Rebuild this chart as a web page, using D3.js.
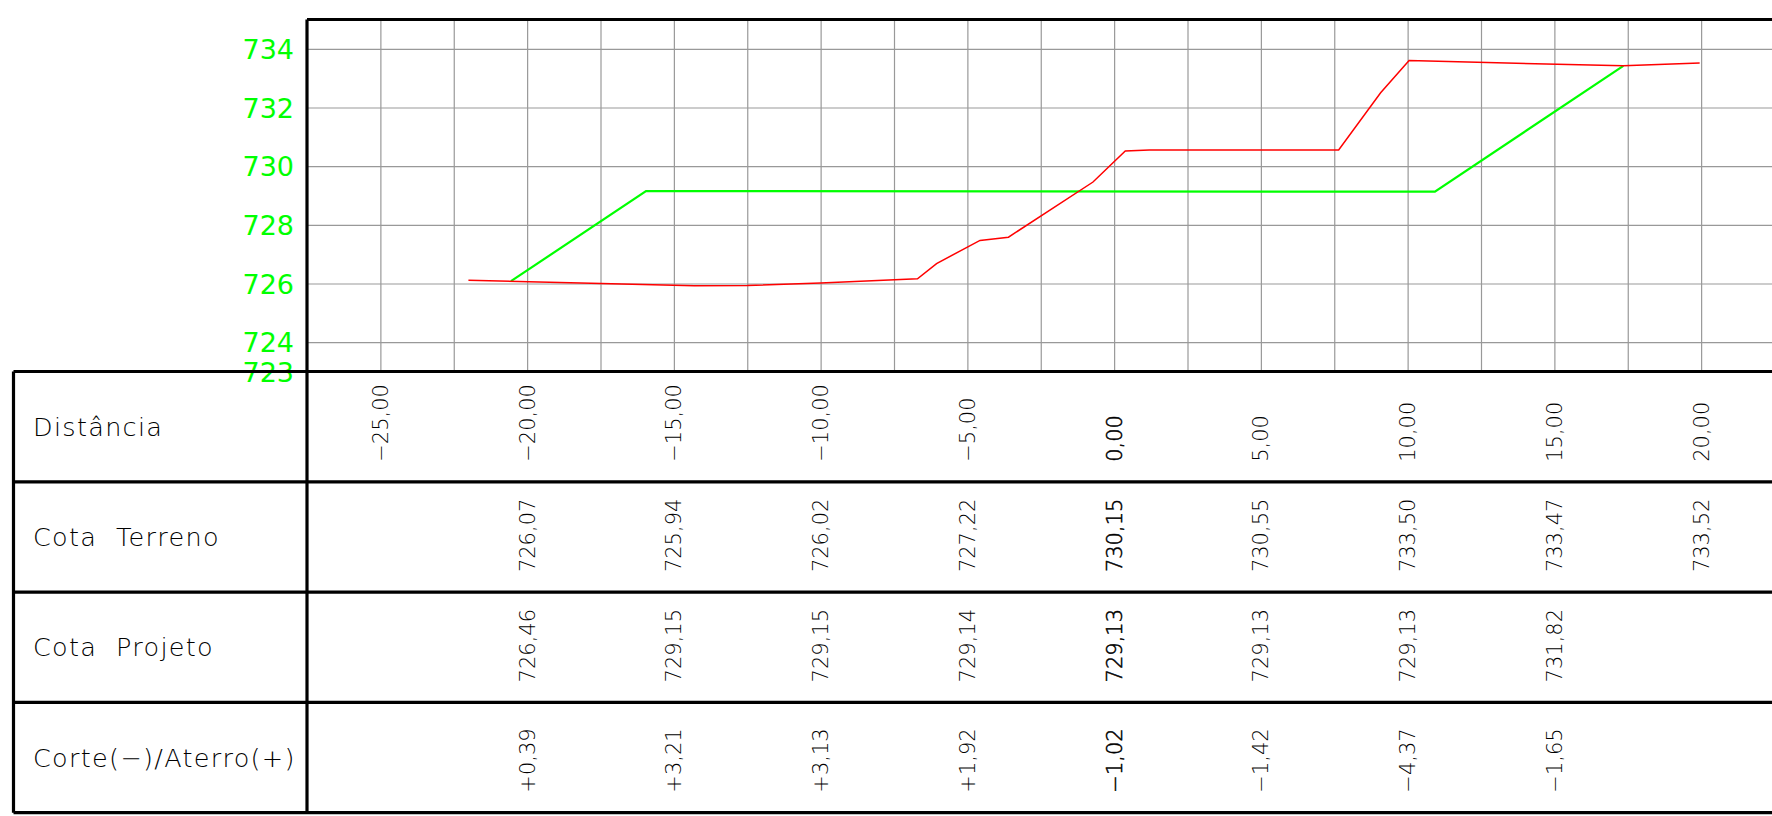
<!DOCTYPE html>
<html>
<head>
<meta charset="utf-8">
<script src="https://cdn.jsdelivr.net/npm/d3@7"></script>
<style>
  html, body { margin: 0; padding: 0; background: #fff; }
  svg { display: block; }
</style>
</head>
<body>
<svg id="chart" width="1772" height="816"></svg>
<script>
// ---- data ----
var stations = [-25, -20, -15, -10, -5, 0, 5, 10, 15, 20];
var cotaTerreno = [null, 726.07, 725.94, 726.02, 727.22, 730.15, 730.55, 733.50, 733.47, 733.52];
var cotaProjeto = [null, 726.46, 729.15, 729.15, 729.14, 729.13, 729.13, 729.13, 731.82, null];
var corteAterro = [null, 0.39, 3.21, 3.13, 1.92, -1.02, -1.42, -4.37, -1.65, null];

// terrain profile (red) vertices [distance, elevation]
var terrenoX = [-22.0, -14.3, -12.5, -10.0, -6.7, -6.05, -4.57, -3.6, -0.72, 0.38, 1.2, 7.65, 9.08, 10.05, 17.35, 19.95];
var terrenoY = [726.11, 725.92, 725.93, 726.02, 726.16, 726.68, 727.47, 727.58, 729.46, 730.52, 730.55, 730.55, 732.5, 733.6, 733.42, 733.52];

// project profile (green) vertices
var projetoX = [-20.55, -15.95, 10.93, 17.35];
var projetoY = [726.08, 729.15, 729.13, 733.42];

var yTicks = [723, 724, 726, 728, 730, 732, 734];
var yGrid = [724, 726, 728, 730, 732, 734];
var xGrid = [-25, -22.5, -20, -17.5, -15, -12.5, -10, -7.5, -5, -2.5, 0, 2.5, 5, 7.5, 10, 12.5, 15, 17.5, 20];
var rowLabels = ["Distância", "Cota  Terreno", "Cota  Projeto", "Corte(−)/Aterro(+)"];

// ---- layout ----
var W = 1772, H = 816;
var plotLeft = 307, plotTop = 19.5, plotBottom = 371.5;
var tableLeft = 13.5, rowH = 110.3;

var svg = d3.select("#chart");

var x = d3.scaleLinear().domain([-27.5, 22.5]).range([plotLeft, plotLeft + 50 * 29.35]);
var y = d3.scaleLinear().domain([723, 735]).range([plotBottom, plotTop]);

var ptBR = d3.formatLocale({decimal: ",", thousands: ".", grouping: [3], currency: ["", ""], minus: "\u2212"});
var f2 = ptBR.format(".2f");
var fSigned = ptBR.format("+.2f");

// grid
var gx = svg.append("g")
  .attr("transform", "translate(0," + plotBottom + ")")
  .call(d3.axisBottom(x).tickValues(xGrid).tickSize(-(plotBottom - plotTop)).tickFormat(""));
gx.select(".domain").remove();
gx.selectAll("line").attr("stroke", "#999").attr("stroke-width", 1.2);

var gy = svg.append("g")
  .attr("transform", "translate(" + plotLeft + ",0)")
  .call(d3.axisRight(y).tickValues(yGrid).tickSize(W - plotLeft).tickFormat(""));
gy.select(".domain").remove();
gy.selectAll("line").attr("stroke", "#999").attr("stroke-width", 1.2);

// y labels
var gyl = svg.append("g")
  .attr("transform", "translate(" + plotLeft + ",0)")
  .call(d3.axisLeft(y).tickValues(yTicks).tickSize(0).tickPadding(13).tickFormat(d3.format("d")));
gyl.select(".domain").remove();
gyl.selectAll("text")
  .attr("fill", "#00ff00")
  .attr("font-family", "DejaVu Sans")
  .attr("font-size", 27)
  .attr("dy", "0.36em");

// profiles
var line = d3.line().x(function(d){ return x(d[0]); }).y(function(d){ return y(d[1]); });

svg.append("path")
  .datum(projetoX.map(function(v, i){ return [v, projetoY[i]]; }))
  .attr("d", line)
  .attr("fill", "none")
  .attr("stroke", "#00ff00")
  .attr("stroke-width", 2.2);

svg.append("path")
  .datum(terrenoX.map(function(v, i){ return [v, terrenoY[i]]; }))
  .attr("d", line)
  .attr("fill", "none")
  .attr("stroke", "#ff0000")
  .attr("stroke-width", 1.5);

// frame
var frame = svg.append("g").attr("stroke", "#000").attr("stroke-width", 3.2).attr("fill", "none");
frame.append("line").attr("x1", plotLeft).attr("x2", W).attr("y1", plotTop).attr("y2", plotTop);
frame.append("line").attr("x1", plotLeft).attr("x2", plotLeft).attr("y1", plotTop).attr("y2", plotBottom);

// table
for (var r = 0; r <= 4; r++) {
  frame.append("line").attr("x1", tableLeft).attr("x2", W)
    .attr("y1", plotBottom + r * rowH).attr("y2", plotBottom + r * rowH);
}
frame.append("line").attr("x1", tableLeft).attr("x2", tableLeft)
  .attr("y1", plotBottom).attr("y2", plotBottom + 4 * rowH);
frame.append("line").attr("x1", plotLeft).attr("x2", plotLeft)
  .attr("y1", plotBottom).attr("y2", plotBottom + 4 * rowH);

svg.append("g").selectAll("text")
  .data(rowLabels)
  .enter().append("text")
  .attr("x", 33)
  .attr("y", function(d, i){ return plotBottom + i * rowH + rowH / 2; })
  .attr("dy", "0.36em")
  .attr("font-family", "DejaVu Sans")
  .attr("font-weight", 200)
  .attr("font-size", 25.5)
  .attr("letter-spacing", 1.3)
  .attr("xml:space", "preserve")
  .style("white-space", "pre")
  .attr("fill", "#000")
  .text(function(d){ return d; });

var rows = [
  stations.map(function(s){ return f2(s); }),
  cotaTerreno.map(function(v){ return v == null ? "" : f2(v); }),
  cotaProjeto.map(function(v){ return v == null ? "" : f2(v); }),
  corteAterro.map(function(v){ return v == null ? "" : fSigned(v); })
];

rows.forEach(function(vals, r){
  var base = plotBottom + (r + 1) * rowH - 20;
  svg.append("g").selectAll("text")
    .data(vals)
    .enter().append("text")
    .attr("transform", function(d, i){ return "translate(" + x(stations[i]) + "," + base + ") rotate(-90)"; })
    .attr("dy", "0.36em")
    .attr("font-family", "DejaVu Sans")
    .attr("font-weight", 200)
    .attr("font-size", 21)
    .attr("fill", "#000")
    .attr("stroke", function(d, i){ return stations[i] === 0 ? "#000" : "none"; })
    .attr("stroke-width", 0.5)
    .text(function(d){ return d; });
});
</script>
</body>
</html>
